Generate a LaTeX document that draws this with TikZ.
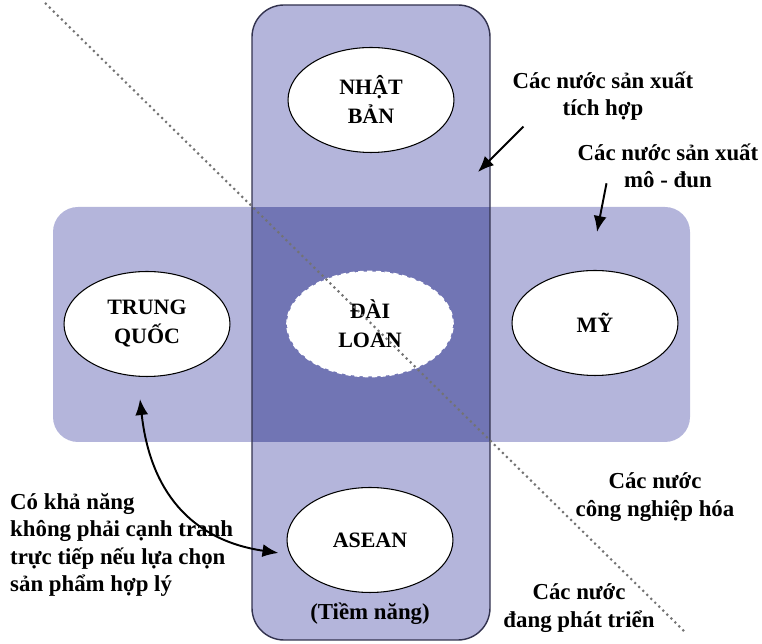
\documentclass[tikz,border=0pt]{standalone}
\usepackage{fontspec}
\setmainfont{Liberation Serif}
\usetikzlibrary{shapes.geometric}
\usetikzlibrary{arrows.meta}

\definecolor{boxlight}{RGB}{180,181,219}
\definecolor{boxdark}{RGB}{113,117,180}
\definecolor{boxline}{RGB}{50,50,78}

\tikzset{
  country/.style={ellipse,draw=black,fill=white,line width=0.6pt,minimum width=3.32cm,minimum height=2.1cm,inner sep=0pt,align=center,font=\fontsize{12.5}{16.5}\selectfont\bfseries},
  note/.style={align=center,font=\fontsize{13}{15.5}\selectfont\bfseries},
  pointer/.style={line width=1.1pt,-{Latex[length=3.2mm,width=2.6mm]}},
  twoway/.style={line width=1.1pt,{Latex[length=3.2mm,width=2.6mm]}-{Latex[length=3.2mm,width=2.6mm]}}
}

\begin{document}
\begin{tikzpicture}[x=0.02cm,y=-0.02cm]
\useasboundingbox (0,0) rectangle (762,644);
% the two blocks and their overlap
\fill[boxlight,rounded corners=0.64cm] (252,5) rectangle (490,640);
\fill[boxlight,rounded corners=0.5cm] (53,207) rectangle (690,442);
\fill[boxdark] (252,207) rectangle (490,442);
\draw[boxline,line width=0.8pt,rounded corners=0.64cm] (252,5) rectangle (490,640);

\node[country] (nb) at (371,100) {NHẬT\\BẢN};
\node[country] (tq) at (147,324) {TRUNG\\QUỐC};
\node[country,draw=white,densely dashed,line width=1pt] (dl) at (370,324) {ĐÀI\\LOAN};
\node[country] (my) at (595,323) {MỸ};
\node[country] (as) at (370,540) {ASEAN};
\node[note] (tn) at (370,614) {(Tiềm năng)};

% dividing line
\coordinate (d1) at (45,3);
\coordinate (d2) at (685,632);
\draw[black!55,dotted,line width=1.2pt] (d1) -- (d2);

\node[note] (tichhop) at (603,96) {Các nước sản xuất\\tích hợp};
\node[note] (modun) at (668,166) {Các nước sản xuất\\mô - đun};
\node[note] (cnh) at (655,497) {Các nước\\công nghiệp hóa};
\node[note] (dpt) at (579,608) {Các nước\\đang phát triển};
\node[note,align=left,anchor=west] (canh) at (4,545) {Có khả năng\\không phải cạnh tranh\\trực tiếp nếu lựa chọn\\sản phẩm hợp lý};

\coordinate (p1) at (478,172);
\coordinate (p2) at (597,232);
\draw[pointer] ([xshift=0.34cm]tichhop.south west) -- (p1);
\draw[pointer] ([xshift=0.7cm,yshift=0.22cm]modun.south west) -- (p2);
\draw[twoway] ([xshift=-0.14cm,yshift=-0.44cm]tq.south) .. controls (150,490) and (190,540) .. ([xshift=-0.16cm,yshift=-0.26cm]as.west);

\end{tikzpicture}
\end{document}
